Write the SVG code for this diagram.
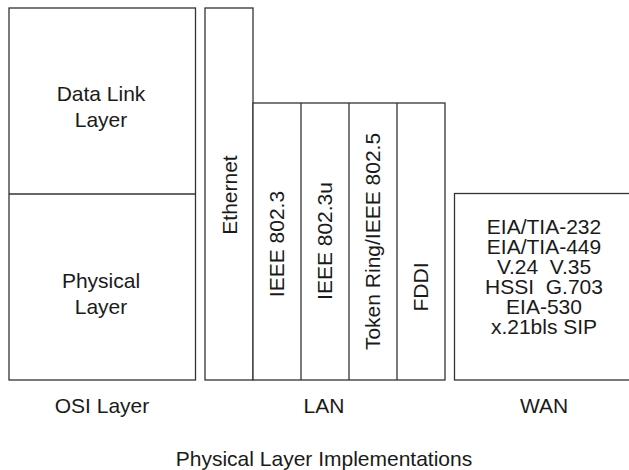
<svg xmlns="http://www.w3.org/2000/svg" width="629" height="470" viewBox="0 0 629 470">
<style>
.box{fill:#fff;stroke:#333;stroke-width:1.3}
.ln{stroke:#333;stroke-width:1.3;fill:none}
text{font-family:"Liberation Sans",Arial,sans-serif;font-size:21px;fill:#1a1a1a;text-anchor:middle}
</style>
<rect width="629" height="470" fill="#fff"/>
<g id="osi">
<rect class="box" x="9" y="8" width="186.5" height="372"/>
<line class="ln" x1="9" y1="194" x2="195.5" y2="194"/>
<text x="101" y="101">Data Link</text>
<text x="101" y="127">Layer</text>
<text x="101" y="288">Physical</text>
<text x="101" y="314">Layer</text>
</g>
<g id="ethernet">
<rect class="box" x="205" y="8" width="48" height="372"/>
<text transform="translate(237,195) rotate(-90)">Ethernet</text>
</g>
<g id="lan">
<rect class="box" x="253" y="103" width="192" height="277"/>
<line class="ln" x1="301" y1="103" x2="301" y2="380"/>
<line class="ln" x1="349" y1="103" x2="349" y2="380"/>
<line class="ln" x1="397" y1="103" x2="397" y2="380"/>
<text transform="translate(284,244) rotate(-90)">IEEE 802.3</text>
<text transform="translate(332,241) rotate(-90)">IEEE 802.3u</text>
<text transform="translate(380,241.5) rotate(-90)">Token Ring/IEEE 802.5</text>
<text transform="translate(428,287) rotate(-90)">FDDI</text>
</g>
<g id="wan">
<rect class="box" x="454.5" y="193.5" width="180" height="186.5"/>
<text x="544" y="234">EIA/TIA-232</text>
<text x="544" y="254">EIA/TIA-449</text>
<text x="544" y="274">V.24&#160; V.35</text>
<text x="544" y="294">HSSI&#160; G.703</text>
<text x="544" y="314">EIA-530</text>
<text x="544" y="334">x.21bls SIP</text>
</g>
<g id="labels">
<text x="102" y="413">OSI Layer</text>
<text x="324" y="413">LAN</text>
<text x="544" y="413">WAN</text>
<text x="324" y="466">Physical Layer Implementations</text>
</g>
<g id="connectors"></g>
</svg>
